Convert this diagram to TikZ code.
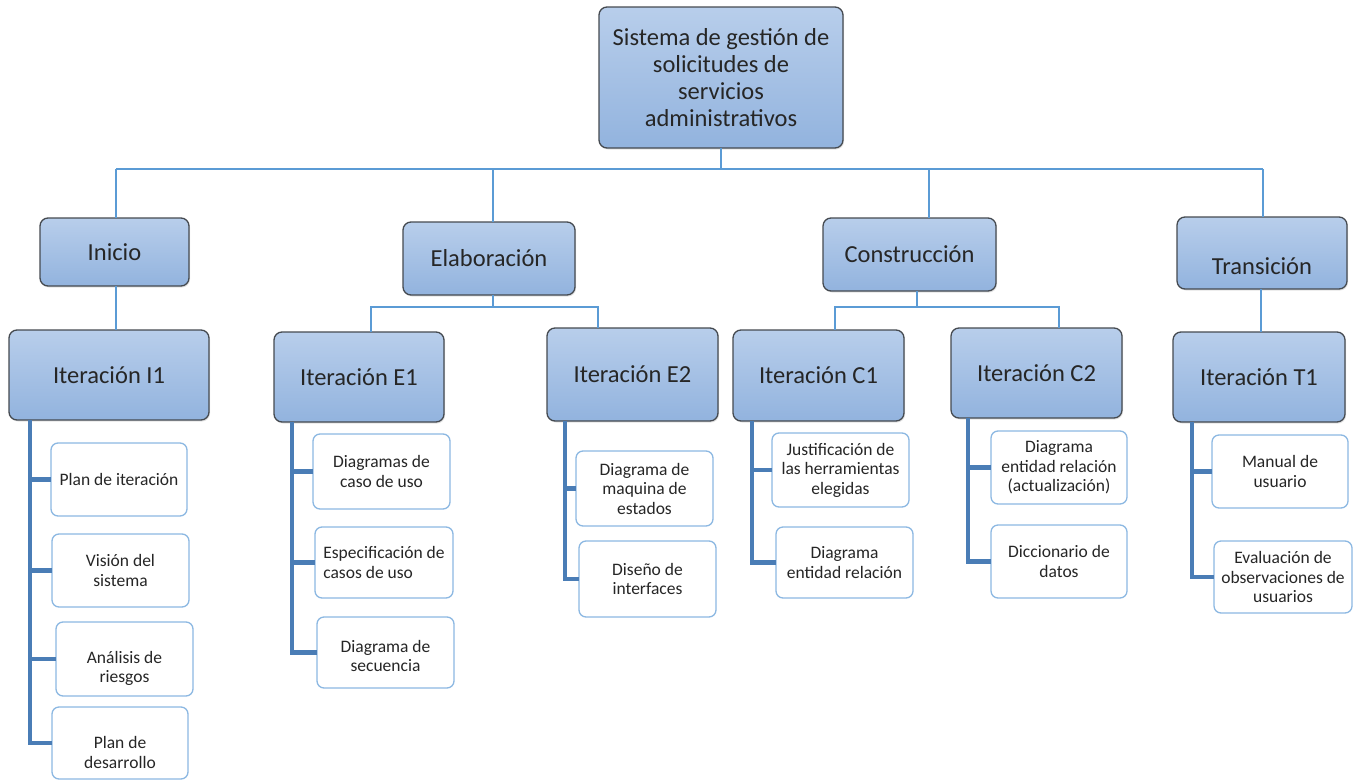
\documentclass[tikz,border=0pt]{standalone}
\usepackage{fontspec}
\setmainfont{Carlito}
\usetikzlibrary{shadows}

\definecolor{phasetop}{HTML}{B8CEEB}
\definecolor{phasebot}{HTML}{92B3DE}
\definecolor{phaseline}{HTML}{454A50}
\definecolor{linkblue}{HTML}{5B9BD5}
\definecolor{spineblue}{HTML}{4A7DB6}
\definecolor{leafline}{HTML}{8CB8E2}

% pushes the text of a box down by enlarging its first line
\newcommand\lowerby[1]{\rule{0pt}{#1}}

\tikzset{
  phase/.style={draw=phaseline, line width=1.3pt, rounded corners=8pt,
    top color=phasetop, bottom color=phasebot,
    drop shadow={opacity=0.22, shadow xshift=1pt, shadow yshift=-1.5pt},
    inner sep=0pt, outer sep=0pt, align=center, text=black!85,
    font=\fontsize{24.5}{27}\selectfont},
  leaf/.style={draw=leafline, line width=1.3pt, rounded corners=7pt,
    fill=white, inner sep=0pt, outer sep=0pt, align=center, text=black!85,
    font=\fontsize{17.5}{19.5}\selectfont},
  link/.style={draw=linkblue, line width=2.4pt},
  spine/.style={draw=spineblue, line width=4.2pt},
}

\begin{document}
\begin{tikzpicture}[x=1pt, y=-1pt]
\useasboundingbox (0,0) rectangle (1354,779);

% root and the four phases
\node[phase, minimum width=244, minimum height=141] (root) at (721,77.5)
  {Sistema de gestión de\\solicitudes de\\servicios\\administrativos};
\node[phase, minimum width=149, minimum height=68] (inicio) at (114.5,252) {Inicio};
\node[phase, minimum width=172, minimum height=73] (elab) at (489,258.5) {Elaboración};
\node[phase, minimum width=173, minimum height=73] (constr) at (909.5,254.5) {Construcción};
\node[phase, minimum width=170, minimum height=72] (trans) at (1262,253) {\lowerby{44pt}Transición};

% iterations
\node[phase, minimum width=200, minimum height=90] (itI1) at (109,375) {Iteración I1};
\node[phase, minimum width=170, minimum height=90] (itE1) at (359,377) {Iteración E1};
\node[phase, minimum width=171, minimum height=93] (itE2) at (632.5,374.5) {Iteración E2};
\node[phase, minimum width=171, minimum height=91] (itC1) at (818.5,375.5) {Iteración C1};
\node[phase, minimum width=171, minimum height=90] (itC2) at (1036.5,373) {Iteración C2};
\node[phase, minimum width=172, minimum height=90] (itT1) at (1259,377) {Iteración T1};

% deliverables
\node[leaf, minimum width=136, minimum height=73] (i1a) at (119,479.5) {Plan de iteración};
\node[leaf, minimum width=137, minimum height=73] (i1b) at (120.5,570.5) {Visión del\\sistema};
\node[leaf, minimum width=137, minimum height=74] (i1c) at (124.5,659) {\lowerby{31pt}Análisis de\\riesgos};
\node[leaf, minimum width=136, minimum height=72] (i1d) at (120,743) {\lowerby{31pt}Plan de\\desarrollo};

\node[leaf, minimum width=137, minimum height=75] (e1a) at (381.5,471.5) {Diagramas de\\caso de uso};
\node[leaf, minimum width=138, minimum height=71, align=left] (e1b) at (384,562.5) {Especificación de\\casos de uso};
\node[leaf, minimum width=137, minimum height=71] (e1c) at (385.5,652.5) {\lowerby{19pt}Diagrama de\\secuencia};

\node[leaf, minimum width=137, minimum height=75] (e2a) at (644.5,488.5) {Diagrama de\\maquina de\\estados};
\node[leaf, minimum width=137, minimum height=76] (e2b) at (647.5,579) {Diseño de\\interfaces};

\node[leaf, minimum width=137, minimum height=74] (c1a) at (840.5,470) {Justificación de\\las herramientas\\elegidas};
\node[leaf, minimum width=137, minimum height=71] (c1b) at (844.5,562.5) {Diagrama\\entidad relación};

\node[leaf, minimum width=136, minimum height=73] (c2a) at (1059,467.5) {Diagrama\\entidad relación\\(actualización)};
\node[leaf, minimum width=136, minimum height=73] (c2b) at (1059,561.5) {Diccionario de\\datos};

\node[leaf, minimum width=136, minimum height=73] (t1a) at (1280,471.5) {Manual de\\usuario};
\node[leaf, minimum width=138, minimum height=72] (t1b) at (1283,577) {Evaluación de\\observaciones de\\usuarios};

% top-level bus and drops into each phase
\coordinate (busTop) at (0,169);
\coordinate (dInicio) at ([xshift=1.5]inicio.north);
\coordinate (dElab) at ([xshift=4]elab.north);
\coordinate (dConstr) at ([xshift=19.5]constr.north);
\coordinate (dTrans) at ([xshift=1]trans.north);
\draw[link] (root.south) -- (root.south |- busTop);
\draw[link] (dInicio |- busTop) -- (dTrans |- busTop);
\foreach \d in {dInicio,dElab,dConstr,dTrans}
  \draw[link] (\d |- busTop) -- (\d);

% phase to iteration links
\draw[link] ([xshift=1.5]inicio.south) -- ([xshift=1.5]inicio.south |- itI1.north);
\draw[link] ([xshift=-1]trans.south) -- ([xshift=-1]trans.south |- itT1.north);

\coordinate (busE) at (0,307);
\coordinate (dE1) at ([xshift=12]itE1.north);
\coordinate (dE2) at ([xshift=-34.5]itE2.north);
\draw[link] ([xshift=4]elab.south) -- ([xshift=4]elab.south |- busE);
\draw[link] (dE1) |- (dE2 |- busE) -- (dE2);

\coordinate (busC) at (0,307);
\coordinate (dC1) at ([xshift=16.5]itC1.north);
\coordinate (dC2) at ([xshift=22.5]itC2.north);
\draw[link] ([xshift=7.5]constr.south) -- ([xshift=7.5]constr.south |- busC);
\draw[link] (dC1) |- (dC2 |- busC) -- (dC2);

% deliverable spines
\coordinate (sI1) at ([xshift=21]itI1.south west);
\draw[spine] (sI1) |- (i1d.west);
\foreach \n in {i1a,i1b,i1c} \draw[spine] (sI1 |- \n.west) -- (\n.west);

\coordinate (sE1) at ([xshift=18]itE1.south west);
\draw[spine] (sE1) |- (e1c.west);
\foreach \n in {e1a,e1b} \draw[spine] (sE1 |- \n.west) -- (\n.west);

\coordinate (sE2) at ([xshift=18]itE2.south west);
\draw[spine] (sE2) |- (e2b.west);
\draw[spine] (sE2 |- e2a.west) -- (e2a.west);

\coordinate (sC1) at ([xshift=19]itC1.south west);
\draw[spine] (sC1) |- (c1b.west);
\draw[spine] (sC1 |- c1a.west) -- (c1a.west);

\coordinate (sC2) at ([xshift=17]itC2.south west);
\draw[spine] (sC2) |- (c2b.west);
\draw[spine] (sC2 |- c2a.west) -- (c2a.west);

\coordinate (sT1) at ([xshift=19]itT1.south west);
\draw[spine] (sT1) |- (t1b.west);
\draw[spine] (sT1 |- t1a.west) -- (t1a.west);
\end{tikzpicture}
\end{document}
